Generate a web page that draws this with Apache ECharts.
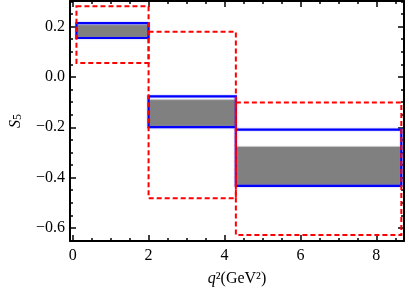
<!DOCTYPE html>
<html><head><meta charset="utf-8">
<script src="https://cdn.jsdelivr.net/npm/echarts@6/dist/echarts.min.js"></script>
<style>html,body{margin:0;padding:0;background:#fff}#c{width:409px;height:293px}</style>
</head><body><div id="c"></div>
<script>
// bins in q^2 (GeV^2)
var binLo = [0.1, 2.0, 4.3];
var binHi = [2.0, 4.3, 8.66];
// gray band (central range)
var grayLow  = [0.155, -0.199, -0.433];
var grayHigh = [0.208, -0.090, -0.276];
// blue box
var blueLow  = [0.155, -0.199, -0.433];
var blueHigh = [0.214, -0.077, -0.209];
// red dashed box
var redLow  = [0.056, -0.482, -0.628];
var redHigh = [0.281, 0.180, -0.101];
// ticks
var xMajor = [0, 2, 4, 6, 8];
var xMinor = [0.5, 1, 1.5, 2.5, 3, 3.5, 4.5, 5, 5.5, 6.5, 7, 7.5, 8.5];
var yMajor = [-0.6, -0.4, -0.2, 0.0, 0.2];
var yMinor = [-0.65, -0.55, -0.5, -0.45, -0.35, -0.3, -0.25, -0.15, -0.1, -0.05, 0.05, 0.1, 0.15, 0.25, 0.3];

var X0 = -0.07, X1 = 8.73, Y0 = -0.652, Y1 = 0.302;
var font = 'Liberation Serif';
var fs = 16;

function boxes(lo, hi) {
  return binLo.map(function (b, i) { return [b, binHi[i], lo[i], hi[i]]; });
}
function rectSeries(data, style, z) {
  return {
    type: 'custom', xAxisIndex: 0, yAxisIndex: 0, z: z, clip: false,
    data: data,
    renderItem: function (params, api) {
      var p0 = api.coord([api.value(0), api.value(3)]);
      var p1 = api.coord([api.value(1), api.value(2)]);
      return { type: 'rect', shape: { x: p0[0], y: p0[1], width: p1[0] - p0[0], height: p1[1] - p0[1] }, style: style };
    }
  };
}
function xAx(pos, vals, len, labels, line) {
  return {
    type: 'value', position: pos, min: X0, max: X1, splitLine: { show: false },
    axisLine: { show: line, onZero: false, lineStyle: { color: '#000', width: 2 } },
    axisTick: { show: true, inside: true, length: len, customValues: vals, lineStyle: { color: '#000', width: 1.5 } },
    axisLabel: { show: labels, customValues: vals, color: '#000', fontFamily: font, fontSize: fs, margin: 7 }
  };
}
function yAx(pos, vals, len, labels, line) {
  return {
    type: 'value', position: pos, min: Y0, max: Y1, splitLine: { show: false },
    axisLine: { show: line, onZero: false, lineStyle: { color: '#000', width: 2 } },
    axisTick: { show: true, inside: true, length: len, customValues: vals, lineStyle: { color: '#000', width: 1.5 } },
    axisLabel: { show: labels, customValues: vals, color: '#000', fontFamily: font, fontSize: fs, margin: 5,
      formatter: function (v) { return (v < 0 ? '\u2212' : '') + Math.abs(v).toFixed(1); } }
  };
}
var xa0 = xAx('bottom', xMajor, 6, true, true);
xa0.name = '{i|q}{n|\u00b2(GeV\u00b2)}';
xa0.nameLocation = 'middle'; xa0.nameGap = 30;
xa0.nameTextStyle = { rich: { i: { fontFamily: font, fontStyle: 'italic', fontSize: fs, color: '#000' }, n: { fontFamily: font, fontSize: fs, color: '#000' } } };
var ya0 = yAx('left', yMajor, 6, true, true);
ya0.name = '{i|S}{s|5}';
ya0.nameLocation = 'middle'; ya0.nameGap = 46; ya0.nameRotate = 90;
ya0.nameTextStyle = { rich: { i: { fontFamily: font, fontStyle: 'italic', fontSize: fs, color: '#000', verticalAlign: 'bottom', lineHeight: 18 }, s: { fontFamily: font, fontSize: 12, color: '#000', verticalAlign: 'bottom', lineHeight: 12 } } };

var chart = echarts.init(document.getElementById('c'), null, { renderer: 'canvas' });
chart.setOption({
  animation: false,
  backgroundColor: '#fff',
  grid: { left: 64, right: 5, top: 1, bottom: 52, containLabel: false },
  xAxis: [xa0, xAx('bottom', xMinor, 3, false, false), xAx('top', xMajor, 6, false, true), xAx('top', xMinor, 3, false, false)],
  yAxis: [ya0, yAx('left', yMinor, 3, false, false), yAx('right', yMajor, 6, false, true), yAx('right', yMinor, 3, false, false)],
  series: [
    rectSeries(boxes(grayLow, grayHigh), { fill: '#808080', stroke: '#c8c8c8', lineWidth: 1 }, 1),
    rectSeries(boxes(blueLow, blueHigh), { fill: 'none', stroke: '#0000ff', lineWidth: 2.2, shadowColor: 'rgba(120,120,255,0.6)', shadowBlur: 2 }, 2),
    rectSeries(boxes(redLow, redHigh), { fill: 'none', stroke: '#ff0000', lineWidth: 2, lineDash: [5, 3] }, 3)
  ]
});
</script></body></html>
